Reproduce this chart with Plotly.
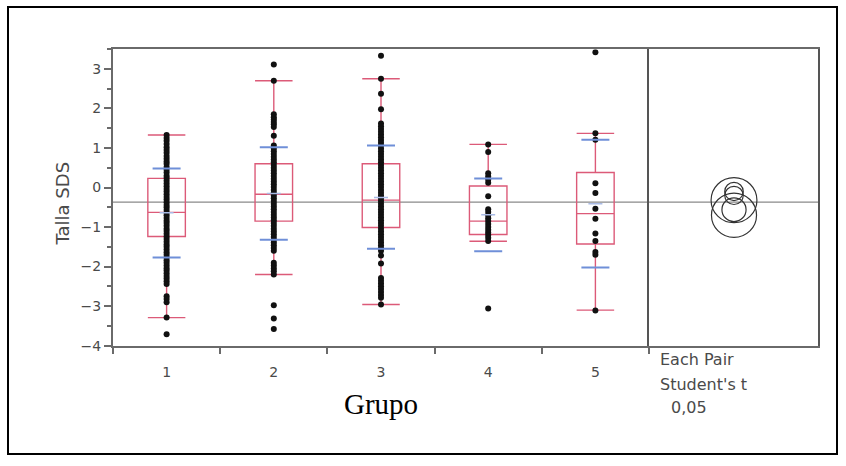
import plotly.graph_objects as go

W, H = 846, 466

groups = [1, 2, 3, 4, 5]
tick_labels = ["1", "2", "3", "4", "5"]

g1 = [1.33, 1.25, 1.18, 1.1, 1.02, 0.95, 0.88, 0.8, 0.73, 0.66, 0.6, 0.52, 0.45, 0.38, 0.3,
      0.24, 0.17, 0.1, 0.03, -0.04, -0.1, -0.17, -0.24, -0.3, -0.37, -0.44, -0.5, -0.57,
      -0.64, -0.7, -0.77, -0.84, -0.9, -0.97, -1.04, -1.1, -1.17, -1.24, -1.3, -1.37, -1.44,
      -1.5, -1.57, -1.64, -1.7, -1.77, -1.84, -1.9, -1.97, -2.04, -2.1, -2.17, -2.24, -2.3,
      -2.37, -2.44, -2.75, -2.82, -2.9, -3.29, -3.71]
g2 = [3.11, 2.7, 1.85, 1.78, 1.72, 1.66, 1.6, 1.53, 1.31, 1.06, 0.99, 0.92, 0.85, 0.78, 0.71,
      0.64, 0.57, 0.5, 0.43, 0.36, 0.29, 0.22, 0.15, 0.08, 0.01, -0.06, -0.13, -0.2, -0.27,
      -0.34, -0.41, -0.48, -0.55, -0.62, -0.69, -0.76, -0.83, -0.9, -0.97, -1.04, -1.11,
      -1.18, -1.25, -1.32, -1.39, -1.46, -1.53, -1.6, -1.9, -1.97, -2.05, -2.12, -2.2,
      -2.98, -3.31, -3.58]
g3 = [3.33, 2.75, 2.37, 1.98, 1.62, 1.55, 1.48, 1.41, 1.34, 1.27, 1.2, 1.13, 1.06, 0.99, 0.92,
      0.85, 0.78, 0.71, 0.64, 0.57, 0.5, 0.43, 0.36, 0.29, 0.22, 0.15, 0.08, 0.01, -0.06,
      -0.13, -0.2, -0.27, -0.34, -0.41, -0.48, -0.55, -0.62, -0.69, -0.76, -0.83, -0.9,
      -0.97, -1.04, -1.11, -1.18, -1.25, -1.32, -1.39, -1.46, -1.53, -1.6, -1.72, -1.92,
      -2.29, -2.36, -2.43, -2.5, -2.57, -2.64, -2.72, -2.79, -2.96]
g4 = [1.09, 0.9, 0.36, 0.28, 0.2, 0.12, -0.22, -0.55, -0.62, -0.7, -0.78, -0.85, -0.92, -1.0,
      -1.07, -1.14, -1.2, -1.27, -1.35, -3.06]
g5 = [3.42, 1.37, 1.21, 0.11, -0.14, -0.54, -0.79, -1.16, -1.35, -1.63, -1.7, -3.11]
group_points = [g1, g2, g3, g4, g5]

q1 = [-1.24, -0.85, -1.01, -1.19, -1.43]
median = [-0.63, -0.17, -0.32, -0.85, -0.66]
q3 = [0.23, 0.6, 0.6, 0.04, 0.38]
lower_fence = [-3.29, -2.2, -2.96, -1.36, -3.1]
upper_fence = [1.33, 2.7, 2.75, 1.09, 1.37]

means = [-0.64, -0.15, -0.25, -0.69, -0.41]
sd_upper = [0.48, 1.02, 1.06, 0.23, 1.21]
sd_lower = [-1.77, -1.32, -1.55, -1.61, -2.02]

grand_mean = -0.37

circle_center = [-0.56, -0.1, -0.2, -0.7, -0.32]
circle_radius = [0.3, 0.23, 0.23, 0.56, 0.57]

# layout helpers (pixel -> paper)
def px(x):
    return x / W

def py(y):
    return 1 - y / H

X_L, X_M, X_R = 113, 649, 818
Y_T, Y_B = 50, 351.7

RED = "#dc5a78"
BLUE = "#6f8fd8"
AX = "#6a6a6a"
TXT = "#4a4a4a"

fig = go.Figure()

fig.add_trace(go.Box(
    x=groups, q1=q1, median=median, q3=q3,
    lowerfence=lower_fence, upperfence=upper_fence,
    width=0.35, whiskerwidth=1, boxpoints=False,
    line=dict(color=RED, width=1.4), fillcolor="rgba(0,0,0,0)",
    xaxis="x", yaxis="y", showlegend=False, hoverinfo="skip"))

for g, pts in zip(groups, group_points):
    fig.add_trace(go.Scatter(
        x=[g] * len(pts), y=pts, mode="markers",
        marker=dict(color="#111111", size=6),
        xaxis="x", yaxis="y", showlegend=False, hoverinfo="skip"))

fig.add_trace(go.Scatter(
    x=groups + groups, y=sd_upper + sd_lower, mode="markers",
    marker=dict(symbol="line-ew", size=20, line=dict(color=BLUE, width=2)),
    xaxis="x", yaxis="y", showlegend=False, hoverinfo="skip"))
fig.add_trace(go.Scatter(
    x=groups, y=means, mode="markers",
    marker=dict(symbol="line-ew", size=10, line=dict(color="#a9bbe6", width=1.5)),
    xaxis="x", yaxis="y", showlegend=False, hoverinfo="skip"))

shapes = []
shapes.append(dict(type="line", xref="paper", yref="y",
                   x0=px(X_L), x1=px(X_R), y0=grand_mean, y1=grand_mean,
                   line=dict(color="#8a8a8a", width=1.2), layer="below"))
for c, r in zip(circle_center, circle_radius):
    shapes.append(dict(type="circle", xref="x2", yref="y2",
                       x0=-r, x1=r, y0=c - r, y1=c + r,
                       line=dict(color="#333333", width=1.2)))
shapes.append(dict(type="rect", xref="paper", yref="paper",
                   x0=px(8), x1=px(837), y0=py(462), y1=py(7),
                   line=dict(color="#000000", width=2)))

pxu = (Y_B - Y_T) / 7.5
x2_left = -(734 - X_M) / pxu
x2_right = (X_R - 734) / pxu

annotations = [
    dict(text="Grupo", x=px(381), y=py(411), xref="paper", yref="paper",
         xanchor="center", yanchor="middle",
         showarrow=False, font=dict(family="Liberation Serif", size=29, color="#000")),
    dict(text="Talla SDS", x=px(62), y=py(207), xref="paper", yref="paper",
         xanchor="center", yanchor="middle",
         showarrow=False, textangle=-90,
         font=dict(family="DejaVu Sans", size=18, color=TXT)),
    dict(text="Each Pair", x=px(658), y=py(366), xref="paper", yref="paper",
         xanchor="left", yanchor="middle", showarrow=False,
         font=dict(family="DejaVu Sans", size=16, color=TXT)),
    dict(text="Student's t", x=px(658), y=py(391), xref="paper", yref="paper",
         xanchor="left", yanchor="middle", showarrow=False,
         font=dict(family="DejaVu Sans", size=16, color=TXT)),
    dict(text="0,05", x=px(669), y=py(415), xref="paper", yref="paper",
         xanchor="left", yanchor="middle", showarrow=False,
         font=dict(family="DejaVu Sans", size=16, color=TXT)),
]

fig.update_layout(
    width=W, height=H, autosize=False,
    margin=dict(l=0, r=0, t=0, b=0, pad=0),
    paper_bgcolor="white", plot_bgcolor="white",
    font=dict(family="DejaVu Sans", color=TXT),
    xaxis=dict(domain=[px(X_L), px(X_M)], range=[0.5, 5.5], anchor="y",
               tickmode="array", tickvals=groups, ticktext=tick_labels,
               ticks="", showgrid=False, zeroline=False,
               showline=True, linecolor=AX, linewidth=2, mirror=True,
               tickfont=dict(size=14, color=TXT), ticklabelstandoff=13,
               minor=dict(tick0=0.5, dtick=1, ticks="outside", ticklen=6,
                          tickcolor=AX, tickwidth=1.5, showgrid=False)),
    yaxis=dict(domain=[py(Y_B), py(Y_T)], range=[-4, 3.5], anchor="x",
               tickmode="linear", tick0=-4, dtick=1,
               ticks="outside", ticklen=7, tickcolor=AX, tickwidth=1.5,
               showgrid=False, zeroline=False,
               showline=True, linecolor=AX, linewidth=2, mirror=False,
               tickfont=dict(size=14, color=TXT),
               minor=dict(tick0=-4, dtick=0.5, ticks="outside", ticklen=4,
                          tickcolor=AX, tickwidth=1.5, showgrid=False)),
    xaxis2=dict(domain=[px(X_M), px(X_R)], range=[x2_left, x2_right], anchor="y2",
                showticklabels=False, ticks="", showgrid=False, zeroline=False,
                showline=True, linecolor=AX, linewidth=2, mirror=True),
    yaxis2=dict(domain=[py(Y_B), py(Y_T)], range=[-4, 3.5], anchor="x2",
                showticklabels=False, ticks="", showgrid=False, zeroline=False,
                showline=True, linecolor="#555555", linewidth=2, mirror=True),
    shapes=shapes,
    annotations=annotations,
)

fig.write_html("out.html",
               config={"displayModeBar": False},
               post_script="document.body.style.margin='0';document.body.style.overflow='hidden';")
